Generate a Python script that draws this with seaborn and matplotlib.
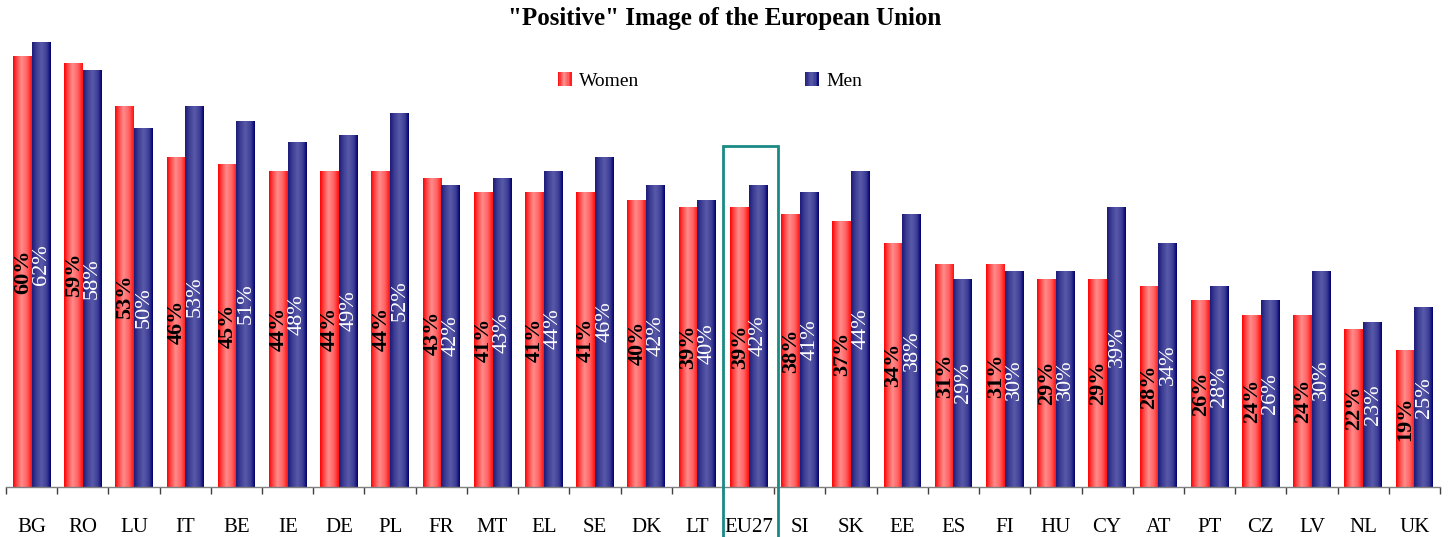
import numpy as np
import pandas as pd
import matplotlib
matplotlib.use("Agg")
import matplotlib.pyplot as plt
from matplotlib.patches import Rectangle
from matplotlib.colors import LinearSegmentedColormap
from matplotlib.legend_handler import HandlerBase
import seaborn as sns

countries = ["BG", "RO", "LU", "IT", "BE", "IE", "DE", "PL", "FR", "MT", "EL", "SE", "DK", "LT",
             "EU27", "SI", "SK", "EE", "ES", "FI", "HU", "CY", "AT", "PT", "CZ", "LV", "NL", "UK"]
women = [60, 59, 53, 46, 45, 44, 44, 44, 43, 41, 41, 41, 40, 39,
         39, 38, 37, 34, 31, 31, 29, 29, 28, 26, 24, 24, 22, 19]
men = [62, 58, 50, 53, 51, 48, 49, 52, 42, 43, 44, 46, 42, 40,
       42, 41, 44, 38, 29, 30, 30, 39, 34, 28, 26, 30, 23, 25]
series = ["Women", "Men"]
title = '"Positive" Image of the European Union'

sns.set_theme(style="white")
plt.rcParams["font.family"] = ["Liberation Serif", "DejaVu Serif"]
plt.rcParams["text.color"] = "black"
plt.rcParams["xtick.color"] = "black"
plt.rcParams["xtick.labelcolor"] = "black"

df = pd.DataFrame({
    "country": countries * 2,
    "value": women + men,
    "sex": ["Women"] * len(countries) + ["Men"] * len(countries),
})

red_cmap = LinearSegmentedColormap.from_list(
    "redg", [(0, "#ff0000"), (0.15, "#ff3a3a"), (0.45, "#ff8c8c"), (0.75, "#ff6060"), (1, "#ff1010")])
blue_cmap = LinearSegmentedColormap.from_list(
    "blueg", [(0, "#1c1c78"), (0.2, "#3a3a92"), (0.5, "#5a5aaa"), (0.8, "#3c3c94"), (1, "#000070")])

fig = plt.figure(figsize=(14.5, 5.37), dpi=100)
ax = fig.add_axes([6 / 1450, 1 - 487 / 537, 1434 / 1450, (487 - 20) / 537])

sns.barplot(data=df, x="country", y="value", hue="sex", order=countries, hue_order=series,
            palette={"Women": "#ff6060", "Men": "#4848a0"}, width=0.73, gap=0,
            saturation=1, legend=False, ax=ax, linewidth=0)

ax.set_xlim(-0.5, len(countries) - 0.5)
ax.set_ylim(0, 65)

grad = np.linspace(0, 1, 64).reshape(1, -1)
n = len(countries)
patches = list(ax.patches)
for i, p in enumerate(patches):
    is_women = i < n
    x0, w, h = p.get_x(), p.get_width(), p.get_height()
    cmap = red_cmap if is_women else blue_cmap
    im = ax.imshow(grad, cmap=cmap, aspect="auto", extent=(x0, x0 + w, 0, h),
                   interpolation="bilinear", zorder=p.get_zorder() + 0.1)
    im.set_clip_path(p)
    cx = x0 + w / 2
    if is_women:
        ax.text(cx + 0.01, h / 2, f"{int(round(h))}%", rotation=90, ha="center", va="center",
                fontsize=16, fontweight="bold", color="black", zorder=5)
    else:
        ax.text(cx + 0.01, h / 2, f"{int(round(h))}%", rotation=90, ha="center", va="center",
                fontsize=16, color="white", zorder=5)

ax.set_xlim(-0.5, len(countries) - 0.5)
ax.set_ylim(0, 65)

for s in ["top", "right", "left"]:
    ax.spines[s].set_visible(False)
ax.spines["bottom"].set_color("#808080")
ax.spines["bottom"].set_linewidth(1)
ax.set_yticks([])
ax.set_xlabel("")
ax.set_ylabel("")
ax.set_xticks(range(n))
ax.set_xticklabels(countries, fontsize=15, color="black")
ax.set_xticks(np.arange(-0.5, n, 1), minor=True)
ax.tick_params(axis="x", which="major", length=0, pad=22)
ax.tick_params(axis="x", which="minor", length=5, width=1, color="#404040", direction="out", bottom=True)

# EU27 highlight box
ei = countries.index("EU27")
box = Rectangle((ei - 0.5, -7.2), 1.07, 47.4 + 7.2, fill=False, edgecolor="#1a8a84",
                linewidth=2, clip_on=False, zorder=6)
ax.add_patch(box)

fig.text(0.5, 1 - 18 / 537, title, ha="center", va="center", fontsize=18, fontweight="bold",
         color="black")


class GradHandler(HandlerBase):
    def __init__(self, cmap):
        super().__init__()
        self.cmap = cmap

    def create_artists(self, legend, orig_handle, xdescent, ydescent, width, height, fontsize, trans):
        k = 10
        arts = []
        for j in range(k):
            arts.append(Rectangle((-xdescent + width * j / k, -ydescent), width / k + 0.3, height,
                                  facecolor=self.cmap((j + 0.5) / k), edgecolor="none", transform=trans))
        return arts


h_w = Rectangle((0, 0), 1, 1)
h_m = Rectangle((0, 0), 1, 1, facecolor="b")
leg = fig.legend([h_w, h_m], series, loc="center", bbox_to_anchor=(710 / 1450, 1 - 81 / 537),
                 ncol=2, frameon=False, fontsize=14, columnspacing=8.5, handlelength=0.7,
                 handleheight=0.7, handletextpad=0.4,
                 handler_map={h_w: GradHandler(red_cmap), h_m: GradHandler(blue_cmap)})
for t in leg.get_texts():
    t.set_color("black")

fig.savefig("out.png", dpi=100)
